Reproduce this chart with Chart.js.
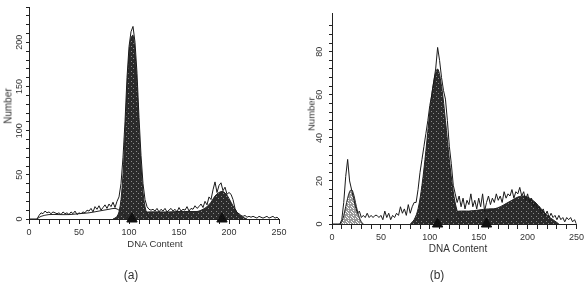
<!DOCTYPE html>
<html><head><meta charset="utf-8">
<script src="https://cdn.jsdelivr.net/npm/chart.js@4.4.1/dist/chart.umd.min.js"></script>
<style>
html,body{margin:0;padding:0;background:#fff;}
body{width:587px;height:285px;position:relative;overflow:hidden;font-family:"Liberation Sans",Arial,sans-serif;color:#333;}
canvas{position:absolute;top:0;}
.lbl{position:absolute;white-space:nowrap;color:#333;transform:translate(-50%,-50%);}
.rot{transform:translate(-50%,-50%) rotate(-90deg);}
</style></head><body>
<canvas id="ca" width="295" height="285" style="left:0"></canvas>
<canvas id="cb" width="292" height="285" style="left:295px"></canvas>
<div class="lbl" style="left:155px;top:243px;font-size:9.5px">DNA Content</div>
<div class="lbl" style="left:458px;top:248px;font-size:10px">DNA Content</div>
<div class="lbl rot" style="left:8px;top:106px;font-size:10px">Number</div>
<div class="lbl rot" style="left:311px;top:114px;font-size:9.5px">Number</div>
<div class="lbl" style="left:131px;top:275px;font-size:12px">(a)</div>
<div class="lbl" style="left:437px;top:275px;font-size:12px">(b)</div>
<script>
// ---------- data ----------
const bins = [0,2,4,6,8,10,12,14,16,18,20,22,24,26,28,30,32,34,36,38,40,42,44,46,48,50,52,54,56,58,60,62,64,66,68,70,72,74,76,78,80,82,84,86,88,90,92,94,96,98,100,102,104,106,108,110,112,114,116,118,120,122,124,126,128,130,132,134,136,138,140,142,144,146,148,150,152,154,156,158,160,162,164,166,168,170,172,174,176,178,180,182,184,186,188,190,192,194,196,198,200,202,204,206,208,210,212,214,216,218,220,222,224,226,228,230,232,234,236,238,240,242,244,246,248,250];

// panel (a): measured histogram
const rawA = [0,0,0,0,0,
 4,7,6,9,7,8,6,8,7,6,
 7,5,8,6,7,5,8,6,9,5,
 7,6,8,7,10,9,12,8,14,11,
 15,10,13,16,12,17,14,19,13,20,
 25,40,70,110,160,195,212,218,200,165,
 115,72,40,22,14,11,10,11,9,12,
 8,11,9,12,8,10,12,9,11,8,
 13,9,11,10,14,9,12,11,15,12,
 14,17,13,20,16,25,22,33,42,30,
 38,41,32,36,28,30,28,22,12,7,
 6,4,3,4,2,3,2,3,2,1,
 3,2,1,2,3,1,2,3,1,2,
 0];
const g1AX = [84,86,88,90,92,94,96,98,100,102,104,106,108,110,112,114,116,118,120,122,124];
const g1AY = [0,1,3,8,22,50,95,145,185,205,208,188,150,100,60,30,14,6,2,1,0];
const g2AX = [166,170,174,178,182,186,190,194,198,202,206,210,214,218];
const g2AY = [8,9,11,14,19,26,30,31,27,19,11,5,2,0];
const sAX = [94,100,110,120,130,140,150,160,170,180,190,200,210];
const sAY = [0,4,7,8,8,8,8.5,8.5,8.5,8.5,7,4,0];
const debAX = [8,12,20,30,40,50,60,70,80,86,90,96,100];
const debAY = [0,3,5,5,5,6,7,9,11,12,10,4,0];
const peaksA = [103,193];

// panel (b): measured histogram
const rawB = [0,0,0,0,0,
 2,10,22,30,20,16,12,8,5,6,
 3,4,3,5,3,4,3,4,4,3,
 4,2,6,3,5,2,4,3,5,4,
 8,5,7,4,9,5,8,10,10,16,
 24,30,36,42,48,55,60,66,72,82,
 76,68,62,58,48,36,28,18,14,10,
 13,8,12,7,11,9,14,8,11,7,
 12,8,14,6,10,13,9,12,10,14,
 11,13,10,15,12,14,13,16,12,15,
 14,17,13,15,11,14,10,12,8,10,
 7,8,5,7,4,6,3,5,3,4,
 2,4,2,3,1,3,2,3,1,2,
 0];
const g0BX = [8,10,12,14,16,18,20,22,24,26,28,30,32];
const g0BY = [0,1,4,8,12,15,16,14,10,6,3,1,0];
const g1BX = [80,84,88,92,96,100,104,108,112,116,120,124,128,132,136];
const g1BY = [0,2,7,18,34,52,66,72,64,48,30,15,6,2,0];
const g2BX = [156,160,166,172,178,184,190,196,202,208,214,220,226,232];
const g2BY = [6,6,7,8,9.5,11,12.5,13,12,10,7,4,2,0];
const sBX = [96,104,112,120,130,140,150,160,170,180,190,200,210,220,230];
const sBY = [0,2,4,5,6,6,6.5,7,7,7,6.5,5,3,1,0];
const peaksB = [108,158];

const xTickLabels = [0,50,100,150,200,250];
const yLabelsA = [0,50,100,150,200];
const yLabelsB = [0,20,40,60,80];

// ---------- helpers ----------
function pts(xs, ys){ return xs.map((x,i)=>({x:x,y:ys[i]})); }
function pattern(light){
  const c=document.createElement('canvas'); c.width=5; c.height=5;
  const g=c.getContext('2d');
  g.fillStyle = light ? '#9a9a9a' : '#2b2b2b'; g.fillRect(0,0,5,5);
  g.fillStyle = light ? '#ffffff' : '#8a8a8a';
  g.fillRect(1,1,1,1); g.fillRect(3,3,1,1);
  if(light){ g.fillRect(0,3,1,1); g.fillRect(3,0,1,1); g.fillRect(2,2,1,1);}
  return g.createPattern(c,'repeat');
}
const rotTicks = {
  id:'rotTicks',
  afterDraw(chart, args, opts){
    const ctx=chart.ctx, y=chart.scales.y;
    ctx.save(); ctx.fillStyle='#333'; ctx.font='9px "Liberation Sans", Arial, sans-serif';
    ctx.textAlign='center'; ctx.textBaseline='middle';
    opts.values.forEach(v=>{
      const py=y.getPixelForValue(v);
      ctx.save(); ctx.translate(opts.x, py); ctx.rotate(-Math.PI/2);
      ctx.fillText(String(v),0,0); ctx.restore();
    });
    ctx.restore();
  }
};

function fitLine(data, fillStyle, width){
  return {data:data, borderColor:'#222', borderWidth:width||1, pointRadius:0, tension:0.35,
          fill: fillStyle ? 'origin' : false, backgroundColor: fillStyle || 'transparent'};
}

function build(id, cfg){
  const datasets = [
    {data: cfg.peaks.map(x=>({x:x,y:0})), showLine:false, pointStyle:'triangle', pointRadius:6,
     backgroundColor:'#111', borderColor:'#111', clip:false},
    {data: pts(bins, cfg.raw), borderColor:'#1a1a1a', borderWidth:1, pointRadius:0, tension:0, fill:false}
  ].concat(cfg.fits);
  return new Chart(document.getElementById(id), {
    type:'line',
    data:{datasets:datasets},
    plugins:[rotTicks],
    options:{
      responsive:false, animation:false, devicePixelRatio:1,
      layout:{padding:cfg.pad},
      plugins:{legend:{display:false}, tooltip:{enabled:false}, rotTicks:{values:cfg.yLabels, x:cfg.yLabelX}},
      scales:{
        x:{type:'linear', min:0, max:250,
           afterBuildTicks:s=>{ s.ticks = []; for(const b of bins){ if(b%10===0) s.ticks.push({value:b}); } },
           afterFit:s=>{ s.height = cfg.xh; },
           ticks:{autoSkip:false, maxRotation:0, padding:3, color:'#333',
                  font:{family:'"Liberation Sans", Arial, sans-serif', size:9},
                  callback:v=> xTickLabels.includes(v) ? String(v) : ''},
           grid:{drawOnChartArea:false, drawTicks:true, tickLength:5, color:'#222'},
           border:{display:true, color:'#222', width:1}},
        y:{type:'linear', min:0, max:cfg.ymax,
           afterBuildTicks:s=>{ s.ticks = s.ticks.filter(t=> Math.abs(t.value/cfg.ystep - Math.round(t.value/cfg.ystep))<1e-6); },
           afterFit:s=>{ s.width = cfg.yw; },
           ticks:{display:false, stepSize:cfg.ystep},
           grid:{drawOnChartArea:false, drawTicks:true, tickLength:3, color:'#222'},
           border:{display:true, color:'#222', width:1}}
      }
    }
  });
}

build('ca', {
  raw: rawA, peaks: peaksA, yLabels: yLabelsA, yLabelX: 20,
  pad:{left:0, right:16, top:4, bottom:0}, xh:66, yw:29, ymax:240, ystep:10,
  fits:[
    fitLine(pts(debAX, debAY), null),
    fitLine(pts(g1AX, g1AY), pattern(false)),
    fitLine(pts(g2AX, g2AY), pattern(false)),
    fitLine(pts(sAX, sAY), pattern(false))
  ]
});
build('cb', {
  raw: rawB, peaks: peaksB, yLabels: yLabelsB, yLabelX: 25,
  pad:{left:0, right:9, top:13, bottom:0}, xh:61, yw:37, ymax:98, ystep:4,
  fits:[
    fitLine(pts(g0BX, g0BY), pattern(true)),
    fitLine(pts(g1BX, g1BY), pattern(false)),
    fitLine(pts(g2BX, g2BY), pattern(false)),
    fitLine(pts(sBX, sBY), pattern(false))
  ]
});
</script>
</body></html>
